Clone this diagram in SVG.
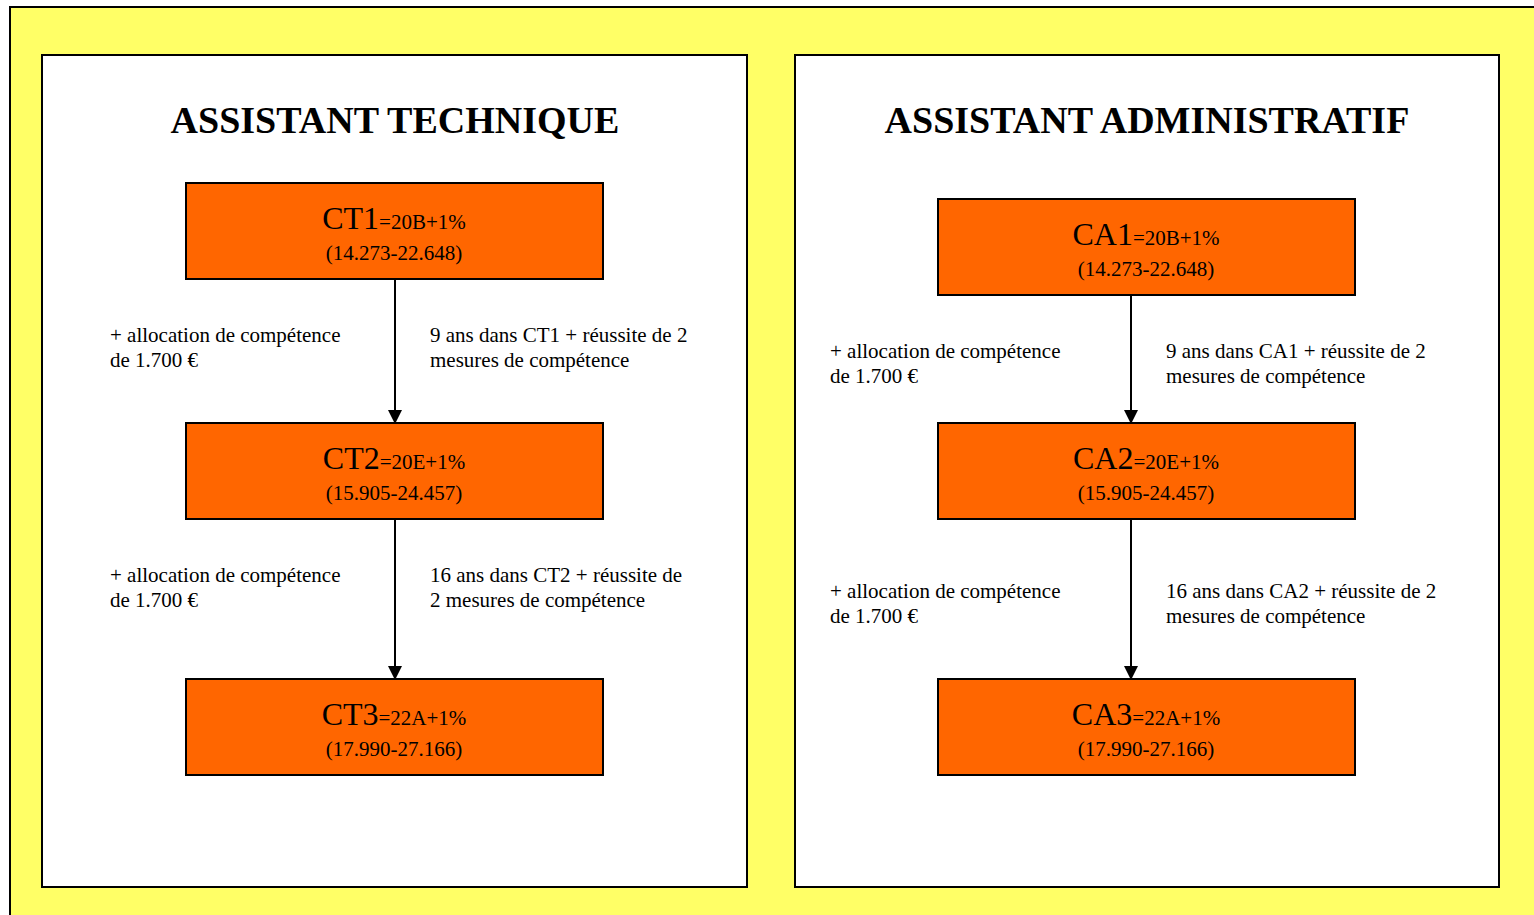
<svg xmlns="http://www.w3.org/2000/svg" width="1534" height="915" viewBox="0 0 1534 915">
<style>
.bg{fill:#ffff66;stroke:#000;stroke-width:2}
.panel{fill:#fff;stroke:#000;stroke-width:2}
.box{fill:#ff6600;stroke:#000;stroke-width:2}
.title{font-family:"Liberation Serif",serif;font-weight:bold;font-size:38px;text-anchor:middle;fill:#000}
.big{font-family:"Liberation Serif",serif;font-size:32px;fill:#000}
.sm{font-family:"Liberation Serif",serif;font-size:21px;fill:#000}
.rng{font-family:"Liberation Serif",serif;font-size:21px;text-anchor:middle;fill:#000}
.lbl{font-family:"Liberation Serif",serif;font-size:21px;fill:#000}
.conn{stroke:#000;stroke-width:2;fill:none}
</style>
<defs>
<marker id="arr" markerWidth="14" markerHeight="14" refX="13" refY="7" orient="auto" markerUnits="userSpaceOnUse">
<path d="M0,0 L14,7 L0,14 z" fill="#000"/>
</marker>
</defs>
<rect class="bg" x="10" y="7" width="1540" height="920"/>
<rect class="panel" x="42" y="55" width="705" height="832"/>
<rect class="panel" x="795" y="55" width="704" height="832"/>
<text class="title" x="395" y="133">ASSISTANT TECHNIQUE</text>
<text class="title" x="1147" y="133">ASSISTANT ADMINISTRATIF</text>
<g id="connectors">
<line class="conn" x1="395" y1="279" x2="395" y2="423" marker-end="url(#arr)"/>
<line class="conn" x1="395" y1="519" x2="395" y2="679" marker-end="url(#arr)"/>
<line class="conn" x1="1131" y1="295" x2="1131" y2="423" marker-end="url(#arr)"/>
<line class="conn" x1="1131" y1="519" x2="1131" y2="679" marker-end="url(#arr)"/>
</g>
<g id="labels">
<text class="lbl" x="110" y="342">+ allocation de compétence</text>
<text class="lbl" x="110" y="367">de 1.700 €</text>
<text class="lbl" x="430" y="342">9 ans dans CT1 + réussite de 2</text>
<text class="lbl" x="430" y="367">mesures de compétence</text>
<text class="lbl" x="110" y="582">+ allocation de compétence</text>
<text class="lbl" x="110" y="607">de 1.700 €</text>
<text class="lbl" x="430" y="582">16 ans dans CT2 + réussite de</text>
<text class="lbl" x="430" y="607">2 mesures de compétence</text>
<text class="lbl" x="830" y="358">+ allocation de compétence</text>
<text class="lbl" x="830" y="383">de 1.700 €</text>
<text class="lbl" x="1166" y="358">9 ans dans CA1 + réussite de 2</text>
<text class="lbl" x="1166" y="383">mesures de compétence</text>
<text class="lbl" x="830" y="598">+ allocation de compétence</text>
<text class="lbl" x="830" y="623">de 1.700 €</text>
<text class="lbl" x="1166" y="598">16 ans dans CA2 + réussite de 2</text>
<text class="lbl" x="1166" y="623">mesures de compétence</text>
</g>
<g id="CT1">
<rect class="box" x="186" y="183" width="417" height="96"/>
<text x="394" y="229" text-anchor="middle"><tspan class="big">CT1</tspan><tspan class="sm">=20B+1%</tspan></text>
<text class="rng" x="394" y="260">(14.273-22.648)</text>
</g>
<g id="CT2">
<rect class="box" x="186" y="423" width="417" height="96"/>
<text x="394" y="469" text-anchor="middle"><tspan class="big">CT2</tspan><tspan class="sm">=20E+1%</tspan></text>
<text class="rng" x="394" y="500">(15.905-24.457)</text>
</g>
<g id="CT3">
<rect class="box" x="186" y="679" width="417" height="96"/>
<text x="394" y="725" text-anchor="middle"><tspan class="big">CT3</tspan><tspan class="sm">=22A+1%</tspan></text>
<text class="rng" x="394" y="756">(17.990-27.166)</text>
</g>
<g id="CA1">
<rect class="box" x="938" y="199" width="417" height="96"/>
<text x="1146" y="245" text-anchor="middle"><tspan class="big">CA1</tspan><tspan class="sm">=20B+1%</tspan></text>
<text class="rng" x="1146" y="276">(14.273-22.648)</text>
</g>
<g id="CA2">
<rect class="box" x="938" y="423" width="417" height="96"/>
<text x="1146" y="469" text-anchor="middle"><tspan class="big">CA2</tspan><tspan class="sm">=20E+1%</tspan></text>
<text class="rng" x="1146" y="500">(15.905-24.457)</text>
</g>
<g id="CA3">
<rect class="box" x="938" y="679" width="417" height="96"/>
<text x="1146" y="725" text-anchor="middle"><tspan class="big">CA3</tspan><tspan class="sm">=22A+1%</tspan></text>
<text class="rng" x="1146" y="756">(17.990-27.166)</text>
</g>
</svg>
